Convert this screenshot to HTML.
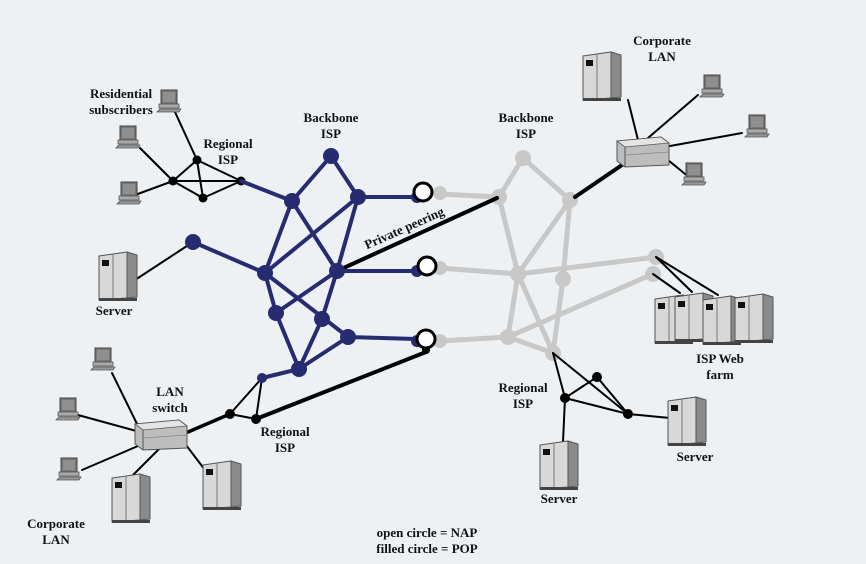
<!DOCTYPE html>
<html><head><meta charset="utf-8"><style>
html,body{margin:0;padding:0;background:#edf1f3}
svg{display:block}
text{font-family:"Liberation Serif",serif;font-weight:bold;font-size:13px;fill:#111;text-anchor:middle}
</style></head><body>
<svg width="866" height="564" viewBox="0 0 866 564" xmlns="http://www.w3.org/2000/svg">
<defs>
<g id="srv">
<polygon points="0,4 28,0 28,46 0,48" fill="#d8d8d8" stroke="#555" stroke-width="1"/>
<polygon points="28,0 38,3 38,45 28,46" fill="#8a8a8a" stroke="#555" stroke-width="1"/>
<line x1="14" y1="2" x2="14" y2="47" stroke="#777"/>
<rect x="3" y="8" width="7" height="6" fill="#111"/>
<rect x="0" y="46" width="38" height="3" fill="#444"/>
</g>
<g id="pc">
<rect x="4" y="0" width="16" height="14" fill="#777" stroke="#444"/>
<rect x="6" y="2" width="12" height="10" fill="#8f8f8f"/>
<rect x="2" y="14" width="20" height="4" fill="#aaa" stroke="#555" stroke-width=".8"/>
<polygon points="0,22 22,22 24,19 3,19" fill="#999" stroke="#555" stroke-width=".8"/>
</g>
<g id="rtr">
<polygon points="0,6 44,2 52,8 52,30 8,32 0,26" fill="#bdbdbd" stroke="#555"/>
<polygon points="0,6 44,2 52,8 8,12" fill="#e4e4e4" stroke="#555" stroke-width=".8"/>
<line x1="8" y1="12" x2="8" y2="32" stroke="#555"/>
<line x1="8" y1="20" x2="52" y2="17" stroke="#888" stroke-width=".8"/>
</g>
</defs>

<!-- gray network -->
<g stroke="#c8c8c8" stroke-width="5" fill="none" stroke-linecap="round">
<line x1="440" y1="194" x2="499" y2="197"/>
<line x1="523" y1="158" x2="499" y2="197"/>
<line x1="523" y1="158" x2="570" y2="200"/>
<line x1="499" y1="197" x2="518" y2="274"/>
<line x1="570" y1="200" x2="518" y2="274"/>
<line x1="570" y1="200" x2="563" y2="279"/>
<line x1="440" y1="268" x2="518" y2="274"/>
<line x1="518" y1="274" x2="656" y2="257"/>
<line x1="563" y1="279" x2="553" y2="353"/>
<line x1="518" y1="274" x2="508" y2="337"/>
<line x1="518" y1="274" x2="553" y2="353"/>
<line x1="508" y1="337" x2="653" y2="274"/>
<line x1="440" y1="341" x2="508" y2="337"/>
<line x1="508" y1="337" x2="553" y2="353"/>
</g>
<g fill="#c8c8c8">
<circle cx="440" cy="193" r="7"/><circle cx="440" cy="268" r="7"/><circle cx="440" cy="341" r="7"/>
<circle cx="523" cy="158" r="8"/><circle cx="499" cy="197" r="8"/><circle cx="570" cy="200" r="8"/>
<circle cx="518" cy="274" r="8"/><circle cx="563" cy="279" r="8"/><circle cx="656" cy="257" r="8"/>
<circle cx="653" cy="274" r="8"/><circle cx="508" cy="337" r="8"/><circle cx="553" cy="353" r="8"/>
</g>

<!-- black lines -->
<g stroke="#000" fill="none" stroke-linecap="round">
<line x1="337" y1="271" x2="497" y2="198" stroke-width="4"/>
<line x1="256" y1="419" x2="426" y2="352" stroke-width="4"/>
<line x1="575" y1="197" x2="622" y2="165" stroke-width="4"/>
<line x1="188" y1="432" x2="230" y2="414" stroke-width="3.5"/>
<g stroke-width="2">
<line x1="173" y1="181" x2="241" y2="181"/><line x1="173" y1="181" x2="197" y2="160"/>
<line x1="173" y1="181" x2="203" y2="198"/><line x1="197" y1="160" x2="241" y2="181"/>
<line x1="197" y1="160" x2="203" y2="198"/><line x1="203" y1="198" x2="241" y2="181"/>
<line x1="173" y1="181" x2="135" y2="195"/><line x1="173" y1="181" x2="140" y2="148"/>
<line x1="197" y1="160" x2="175" y2="112"/>
<line x1="193" y1="242" x2="135" y2="280"/>
<line x1="230" y1="414" x2="256" y2="419"/><line x1="230" y1="414" x2="262" y2="378"/>
<line x1="256" y1="419" x2="262" y2="378"/>
<line x1="140" y1="430" x2="112" y2="373"/><line x1="140" y1="432" x2="78" y2="415"/>
<line x1="145" y1="443" x2="82" y2="470"/><line x1="160" y1="448" x2="133" y2="475"/>
<line x1="186" y1="445" x2="205" y2="470"/>
<line x1="628" y1="100" x2="638" y2="140"/><line x1="648" y1="138" x2="698" y2="95"/>
<line x1="670" y1="146" x2="742" y2="133"/><line x1="668" y1="160" x2="690" y2="178"/>
<line x1="656" y1="257" x2="692" y2="292"/><line x1="656" y1="257" x2="718" y2="295"/>
<line x1="653" y1="274" x2="680" y2="293"/>
<line x1="553" y1="353" x2="565" y2="398"/><line x1="553" y1="353" x2="628" y2="414"/>
<line x1="565" y1="398" x2="597" y2="377"/><line x1="597" y1="377" x2="628" y2="414"/>
<line x1="565" y1="398" x2="628" y2="414"/>
<line x1="565" y1="398" x2="563" y2="442"/><line x1="628" y1="414" x2="670" y2="418"/>
</g>
</g>
<g fill="#000">
<circle cx="197" cy="160" r="4.5"/><circle cx="173" cy="181" r="4.5"/><circle cx="241" cy="181" r="4.5"/><circle cx="203" cy="198" r="4.5"/>
<circle cx="230" cy="414" r="5"/><circle cx="256" cy="419" r="5"/>
<circle cx="565" cy="398" r="5"/><circle cx="597" cy="377" r="5"/><circle cx="628" cy="414" r="5"/>
<circle cx="426" cy="350" r="4"/>
</g>

<!-- blue network -->
<g stroke="#272b70" stroke-width="4" fill="none" stroke-linecap="round">
<line x1="241" y1="181" x2="292" y2="201"/>
<line x1="331" y1="156" x2="292" y2="201"/><line x1="331" y1="156" x2="358" y2="197"/>
<line x1="292" y1="201" x2="265" y2="273"/><line x1="292" y1="201" x2="337" y2="271"/>
<line x1="358" y1="197" x2="265" y2="273"/><line x1="358" y1="197" x2="337" y2="271"/>
<line x1="358" y1="197" x2="417" y2="197"/>
<line x1="193" y1="242" x2="265" y2="273"/>
<line x1="265" y1="273" x2="276" y2="313"/><line x1="265" y1="273" x2="348" y2="337"/>
<line x1="337" y1="271" x2="276" y2="313"/><line x1="337" y1="271" x2="322" y2="319"/>
<line x1="337" y1="271" x2="417" y2="271"/>
<line x1="276" y1="313" x2="299" y2="369"/><line x1="322" y1="319" x2="299" y2="369"/>
<line x1="348" y1="337" x2="299" y2="369"/><line x1="348" y1="337" x2="417" y2="339"/>
<line x1="299" y1="369" x2="262" y2="378"/>
</g>
<g fill="#272b70">
<circle cx="331" cy="156" r="8"/><circle cx="292" cy="201" r="8"/><circle cx="358" cy="197" r="8"/>
<circle cx="193" cy="242" r="8"/><circle cx="265" cy="273" r="8"/><circle cx="337" cy="271" r="8"/>
<circle cx="276" cy="313" r="8"/><circle cx="322" cy="319" r="8"/><circle cx="348" cy="337" r="8"/>
<circle cx="299" cy="369" r="8"/><circle cx="262" cy="378" r="5"/>
<circle cx="417" cy="197" r="6"/><circle cx="417" cy="271" r="6"/><circle cx="417" cy="341" r="6"/>
</g>
<g fill="#fff" stroke="#000" stroke-width="3">
<circle cx="423" cy="192" r="9"/><circle cx="427" cy="266" r="9"/><circle cx="426" cy="339" r="9"/>
</g>

<!-- icons -->
<use href="#pc" x="157" y="90"/><use href="#pc" x="116" y="126"/><use href="#pc" x="117" y="182"/>
<use href="#srv" x="99" y="252"/>
<use href="#pc" x="91" y="348"/><use href="#pc" x="56" y="398"/><use href="#pc" x="57" y="458"/>
<use href="#rtr" x="135" y="418"/>
<use href="#srv" x="112" y="474"/><use href="#srv" x="203" y="461"/>
<use href="#srv" x="583" y="52"/>
<use href="#rtr" x="617" y="135"/>
<use href="#pc" x="700" y="75"/><use href="#pc" x="745" y="115"/><use href="#pc" x="682" y="163"/>
<use href="#srv" x="655" y="295"/><use href="#srv" x="675" y="293"/><use href="#srv" x="703" y="296"/><use href="#srv" x="735" y="294"/>
<use href="#srv" x="540" y="441"/><use href="#srv" x="668" y="397"/>

<!-- labels -->
<text x="121" y="98">Residential</text><text x="121" y="114">subscribers</text>
<text x="228" y="148">Regional</text><text x="228" y="164">ISP</text>
<text x="331" y="122">Backbone</text><text x="331" y="138">ISP</text>
<text x="526" y="122">Backbone</text><text x="526" y="138">ISP</text>
<text x="662" y="45">Corporate</text><text x="662" y="61">LAN</text>
<text x="114" y="315">Server</text>
<text x="170" y="396">LAN</text><text x="170" y="412">switch</text>
<text x="285" y="436">Regional</text><text x="285" y="452">ISP</text>
<text x="56" y="528">Corporate</text><text x="56" y="544">LAN</text>
<text x="523" y="392">Regional</text><text x="523" y="408">ISP</text>
<text x="720" y="363">ISP Web</text><text x="720" y="379">farm</text>
<text x="695" y="461">Server</text>
<text x="559" y="503">Server</text>
<text x="427" y="537">open circle = NAP</text>
<text x="427" y="553">filled circle = POP</text>
<text x="406" y="232" transform="rotate(-24 406 232)">Private peering</text>
</svg>
</body></html>
